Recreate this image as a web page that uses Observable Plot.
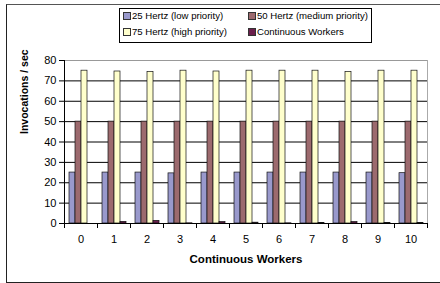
<!DOCTYPE html>
<html>
<head>
<meta charset="utf-8">
<script src="https://cdn.jsdelivr.net/npm/d3@7"></script>
<script src="https://cdn.jsdelivr.net/npm/@observablehq/plot@0.6"></script>
<style>
  html, body { margin: 0; padding: 0; background: #fff; }
  #wrap { position: relative; width: 440px; height: 283px; overflow: hidden; font-family: "Liberation Sans", Arial, sans-serif; }
  #border { position: absolute; left: 6px; top: 4px; width: 440px; height: 277px; border-left: 1px solid #222; border-top: 1px solid #555; border-bottom: 1px solid #222; }
  #legend { position: absolute; left: 119px; top: 8px; width: 251px; height: 33px; border: 1px solid #000; background: #fff; font-size: 9.6px; color: #000; }
  .item { position: absolute; white-space: nowrap; line-height: 12px; }
  .sw { display: inline-block; width: 6px; height: 6px; border: 1px solid #333; margin-right: 1px; vertical-align: -0.5px; }
  svg { position: absolute; left: 0; top: 0; }
</style>
</head>
<body>
<div id="wrap"><div id="border"></div></div>
<script>
const workers = [0, 1, 2, 3, 4, 5, 6, 7, 8, 9, 10];
const seriesNames = ["25 Hertz (low priority)", "50 Hertz (medium priority)", "75 Hertz (high priority)", "Continuous Workers"];
const hz25 = [25, 25, 25, 24.6, 25, 25, 25, 25, 25, 25, 24.7];
const hz50 = [50, 50, 50, 50, 50, 50, 50, 50, 50, 50, 50];
const hz75 = [75, 74.6, 74.3, 75, 74.6, 75, 75, 75, 74.4, 75, 75];
const contWorkers = [0, 0.8, 1.3, 0.1, 0.7, 0.4, 0.1, 0.3, 0.7, 0.3, 0.2];
const yTicks = [0, 10, 20, 30, 40, 50, 60, 70, 80];
const colors = ["#9999cc", "#9c6a6e", "#ffffcc", "#6b1f4c"];

const seriesValues = [hz25, hz50, hz75, contWorkers];
const rows = [];
workers.forEach((w, i) => seriesNames.forEach((s, j) => rows.push({worker: w, series: s, value: seriesValues[j][i]})));

const plotH = 283 - 60 - 60;
const chart = Plot.plot({
  width: 440,
  height: 283,
  marginTop: 60,
  marginBottom: 60,
  marginLeft: 62,
  marginRight: 12,
  style: {fontFamily: "'Liberation Sans', Arial, sans-serif", fontSize: "11px", color: "#000", background: "transparent"},
  fx: {domain: workers, padding: 0, label: null, axis: null},
  x: {domain: seriesNames, paddingInner: 0, paddingOuter: 0.75, axis: null},
  y: {domain: [0, 80], label: null, axis: null},
  color: {domain: seriesNames, range: colors},
  marks: [
    Plot.gridY(yTicks.filter(t => t > 0 && t < 80), {stroke: "#000", strokeOpacity: 1}),
    Plot.gridY([80], {stroke: "#999", strokeOpacity: 1}),
    Plot.frame({anchor: "right", facet: "super", stroke: "#aaa"}),
    Plot.barY(rows, {fx: "worker", x: "series", y: "value", fill: "series", stroke: "#111", strokeWidth: 0.7}),
    Plot.frame({anchor: "left", insetTop: plotH, insetBottom: -4, stroke: "#000"}),
    Plot.frame({anchor: "right", insetTop: plotH, insetBottom: -4, stroke: "#000"}),
    Plot.ruleY([0], {stroke: "#000"}),
    Plot.frame({anchor: "left", facet: "super", insetBottom: -4, stroke: "#000"}),
    Plot.axisY(yTicks, {anchor: "left", tickSize: 5, tickPadding: 3, fontSize: 11, label: null, stroke: "#000"}),
    Plot.axisFx({anchor: "bottom", tickSize: 0, tickPadding: 12, fontSize: 11, label: null}),
    Plot.text(["Continuous Workers"], {frameAnchor: "bottom", facet: "super", dy: 39, fontSize: 11.5, fontWeight: "bold"}),
    Plot.text(["Invocations / sec"], {frameAnchor: "left", facet: "super", dx: -40, dy: -8, rotate: -90, fontSize: 10.5, fontWeight: "bold"})
  ]
});
const wrap = document.getElementById("wrap");
wrap.insertBefore(chart, document.getElementById("border"));

const legend = document.createElement("div");
legend.id = "legend";
const pos = [[3, 1], [128, 1], [3, 17], [128, 17]];
seriesNames.forEach((s, i) => {
  const it = document.createElement("div");
  it.className = "item";
  it.style.left = pos[i][0] + "px";
  it.style.top = pos[i][1] + "px";
  const sw = document.createElement("span");
  sw.className = "sw";
  sw.style.background = colors[i];
  it.appendChild(sw);
  it.appendChild(document.createTextNode(s));
  legend.appendChild(it);
});
wrap.appendChild(legend);
</script>
</body>
</html>
